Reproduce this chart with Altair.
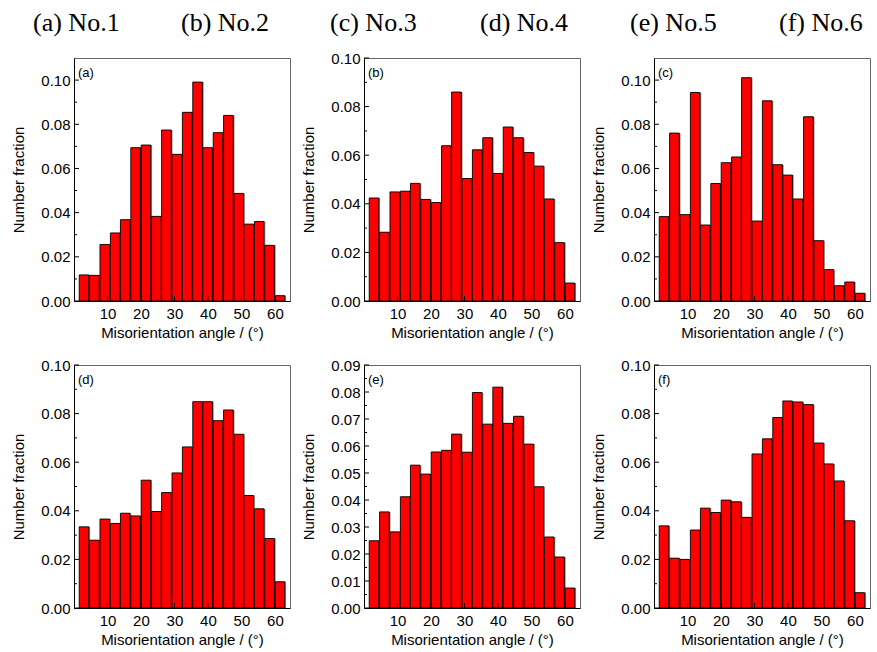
import altair as alt
import pandas as pd

# bin centres of the misorientation-angle histogram (deg)
angles = [3.0, 6.1, 9.2, 12.3, 15.3, 18.4, 21.5, 24.6, 27.6, 30.7,
          33.8, 36.9, 39.9, 43.0, 46.1, 49.2, 52.2, 55.3, 58.4, 61.5]

frac_a = [0.0118, 0.0116, 0.0256, 0.0308, 0.0368, 0.0694, 0.0706, 0.0383, 0.0774, 0.0664,
          0.0854, 0.0991, 0.0694, 0.0762, 0.0840, 0.0487, 0.0348, 0.0360, 0.0252, 0.0024]
frac_b = [0.0424, 0.0283, 0.0449, 0.0452, 0.0484, 0.0418, 0.0405, 0.0639, 0.0860, 0.0504,
          0.0622, 0.0672, 0.0525, 0.0716, 0.0672, 0.0611, 0.0555, 0.0420, 0.0240, 0.0074]
frac_c = [0.0382, 0.0760, 0.0391, 0.0944, 0.0344, 0.0532, 0.0626, 0.0652, 0.1011, 0.0362,
          0.0906, 0.0617, 0.0570, 0.0462, 0.0834, 0.0273, 0.0142, 0.0069, 0.0086, 0.0035]
frac_d = [0.0334, 0.0279, 0.0366, 0.0348, 0.0390, 0.0379, 0.0526, 0.0397, 0.0475, 0.0556,
          0.0663, 0.0849, 0.0849, 0.0771, 0.0815, 0.0715, 0.0463, 0.0408, 0.0286, 0.0108]
frac_e = [0.0249, 0.0356, 0.0282, 0.0412, 0.0529, 0.0496, 0.0578, 0.0584, 0.0644, 0.0577,
          0.0798, 0.0681, 0.0818, 0.0684, 0.0710, 0.0607, 0.0449, 0.0263, 0.0189, 0.0074]
frac_f = [0.0338, 0.0205, 0.0200, 0.0321, 0.0411, 0.0393, 0.0444, 0.0437, 0.0373, 0.0634,
          0.0696, 0.0784, 0.0852, 0.0848, 0.0837, 0.0679, 0.0593, 0.0523, 0.0359, 0.0063]

panel_labels = ["(a)", "(b)", "(c)", "(d)", "(e)", "(f)"]
panel_ymax = [0.11, 0.10, 0.11, 0.10, 0.09, 0.10]
panel_yticks = [
    [0.00, 0.02, 0.04, 0.06, 0.08, 0.10],
    [0.00, 0.02, 0.04, 0.06, 0.08, 0.10],
    [0.00, 0.02, 0.04, 0.06, 0.08, 0.10],
    [0.00, 0.02, 0.04, 0.06, 0.08, 0.10],
    [0.00, 0.01, 0.02, 0.03, 0.04, 0.05, 0.06, 0.07, 0.08, 0.09],
    [0.00, 0.02, 0.04, 0.06, 0.08, 0.10],
]
x_ticks = [10, 20, 30, 40, 50, 60]
header_labels = ["(a) No.1", "(b) No.2", "(c) No.3", "(d) No.4", "(e) No.5", "(f) No.6"]

W, H = 216, 243
SANS = "Liberation Sans"
FS = 15
XTITLE = "Misorientation angle / (\u00b0)"


def panel(label, vals, ymax, yticks, headers=None):
    df = pd.DataFrame({"angle": angles, "frac": vals})
    xs = alt.Scale(domain=[1.5, 63], nice=False, zero=False)
    ys = alt.Scale(domain=[0, ymax], nice=False)
    xax = alt.Axis(values=x_ticks, title=XTITLE, labelPadding=5, titlePadding=4)
    yax = alt.Axis(values=yticks, format=".2f", title="Number fraction",
                   labelPadding=4, titlePadding=14)
    step = yticks[1] - yticks[0]
    minor = [t + step / 2 for t in yticks if t + step / 2 < ymax]

    shadow = alt.Chart(df).mark_bar(color="#8a8a8a", size=9.6, xOffset=1.3).encode(
        x=alt.X("angle:Q", scale=xs, axis=xax),
        y=alt.Y("frac:Q", scale=ys, axis=yax),
    )
    bars = alt.Chart(df).mark_bar(color="#ff0000", stroke="black", strokeWidth=0.9, size=9.6).encode(
        x=alt.X("angle:Q", scale=xs, axis=xax),
        y=alt.Y("frac:Q", scale=ys, axis=yax),
    )
    xt = alt.Chart(pd.DataFrame({"t": x_ticks})).mark_rule(color="black", strokeWidth=1).encode(
        x=alt.X("t:Q", scale=xs, axis=xax), y=alt.value(H), y2=alt.value(H - 5)
    )
    yt = alt.Chart(pd.DataFrame({"t": yticks})).mark_rule(color="black", strokeWidth=1).encode(
        y=alt.Y("t:Q", scale=ys, axis=yax), x=alt.value(0), x2=alt.value(5)
    )
    ym = alt.Chart(pd.DataFrame({"t": minor})).mark_rule(color="black", strokeWidth=1).encode(
        y=alt.Y("t:Q", scale=ys, axis=yax), x=alt.value(0), x2=alt.value(3)
    )
    txt = alt.Chart(pd.DataFrame({"t": [label]})).mark_text(
        align="left", baseline="alphabetic", fontSize=13, font=SANS, color="black"
    ).encode(x=alt.value(4), y=alt.value(19), text="t:N")
    layers = [shadow, bars, xt, yt, ym, txt]
    if headers:
        for name, px in headers:
            layers.append(
                alt.Chart(pd.DataFrame({"t": [name]})).mark_text(
                    align="left", baseline="alphabetic", fontSize=26,
                    font="Liberation Serif", color="black"
                ).encode(x=alt.value(px), y=alt.value(-27), text="t:N")
            )
    return alt.layer(*layers).properties(width=W, height=H)


data = [frac_a, frac_b, frac_c, frac_d, frac_e, frac_f]
header_pos = [[-41, 107], [-34, 116], [-24, 125]]
panels = []
for i in range(6):
    hd = None
    if i < 3:
        hd = [(header_labels[2 * i], header_pos[i][0]), (header_labels[2 * i + 1], header_pos[i][1])]
    panels.append(panel(panel_labels[i], data[i], panel_ymax[i], panel_yticks[i], hd))

row1 = alt.hconcat(*panels[:3], spacing=10)
row2 = alt.hconcat(*panels[3:], spacing=10)

chart = alt.vconcat(row1, row2, spacing=16).properties(
    padding={"left": 11, "top": 9, "right": 0, "bottom": 0},
    background="white",
).configure_view(stroke="#666666", strokeWidth=1).configure_axis(
    labelFont=SANS, titleFont=SANS, labelFontSize=FS, titleFontSize=FS,
    titleFontWeight="normal", labelColor="black", titleColor="black",
    domainColor="black", domainWidth=1, ticks=False, grid=False,
)

chart.save("out.html", embed_options={"renderer": "svg", "actions": False})
